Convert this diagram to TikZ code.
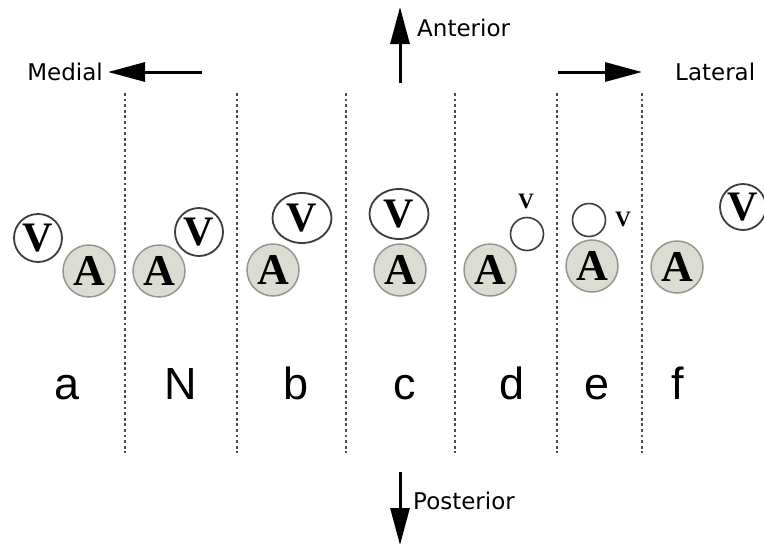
\documentclass[tikz,border=0pt]{standalone}
\usepackage{fontspec}
\setmainfont{Liberation Serif}
\setsansfont{Liberation Sans}
\newfontfamily\dejavu{DejaVu Sans}
\usepackage{tikz}
\usetikzlibrary{arrows.meta,shapes.geometric,positioning}
\definecolor{agrey}{RGB}{221,220,211}
\definecolor{aline}{RGB}{150,150,145}
\definecolor{vline}{RGB}{60,60,60}
\definecolor{sepgrey}{RGB}{75,75,75}

\begin{document}
\begin{tikzpicture}[x=1pt,y=-1pt,
    abub/.style={circle, draw=aline, line width=1.5pt, fill=agrey, minimum size=52pt, inner sep=0pt, font=\bfseries\fontsize{44}{44}\selectfont},
    vbub/.style={circle, draw=vline, line width=1.8pt, fill=white, minimum size=48pt, inner sep=0pt, font=\bfseries\fontsize{42}{42}\selectfont},
    vell/.style={vbub, ellipse, minimum width=59pt, minimum height=50pt},
    ring/.style={circle, draw=vline, line width=1.6pt, minimum size=33pt, inner sep=0pt},
    vsmall/.style={inner sep=0pt, font=\bfseries\fontsize{22}{22}\selectfont},
    lbl/.style={inner sep=0pt, font=\dejavu\fontsize{23}{23}\selectfont},
    let/.style={anchor=base, inner sep=0pt, font=\sffamily\fontsize{45}{45}\selectfont},
    sep/.style={draw=sepgrey, line width=2.8pt, dash pattern=on 2.8pt off 2.8pt},
    dir/.style={line width=3pt, -{Triangle[length=37pt,width=19pt]}}]
    \useasboundingbox (0,0) rectangle (764,547);
    \foreach \x in {125,237,346,455,557,642}
        \draw[sep] (\x,93) -- (\x,453);

    \coordinate (m0) at (202,72);
    \coordinate (m1) at (108,72);
    \node[lbl, left=5pt of m1] (medial) {Medial};
    \coordinate (l0) at (558,72);
    \coordinate (l1) at (642,72);
    \node[lbl, right=33pt of l1] (lateral) {Lateral};
    \coordinate (a0) at (400,83);
    \coordinate (a1) at (400,7);
    \node[lbl, anchor=base west] (anterior) at (417,36) {Anterior};
    \coordinate (p0) at (400,472);
    \coordinate (p1) at (400,545);
    \node[lbl, anchor=base west] (posterior) at (413,509) {Posterior};
    \draw[dir] (m0) -- (m1);
    \draw[dir] (l0) -- (l1);
    \draw[dir] (a0) -- (a1);
    \draw[dir] (p0) -- (p1);

    \node[abub] (aa) at (89,271) {A};
    \node[vbub] (va) at (38,238) {V};
    \node[abub] (an) at (159,271) {A};
    \node[vbub] (vn) at (199,232) {V};
    \node[abub] (ab) at (273,270) {A};
    \node[vell] (vb) at (302,218) {V};
    \node[abub] (ac) at (400,270) {A};
    \node[vell] (vc) at (399,214) {V};
    \node[abub] (ad) at (490,270) {A};
    \node[ring] (vd) at (527,234) {};
    \node[vsmall] (sd) at (526,201) {V};
    \node[abub] (ae) at (592,266) {A};
    \node[ring] (ve) at (589,220) {};
    \node[vsmall] (se) at (623,219) {V};
    \node[abub] (af) at (677,267) {A};
    \node[vbub, minimum size=46pt] (vf) at (743,207) {V};

    \foreach \x/\t [count=\i] in {67/a,181/N,296/b,405/c,512/d,597/e,678/f}
        \node[let] (t\i) at (\x,399) {\t};
\end{tikzpicture}
\end{document}
